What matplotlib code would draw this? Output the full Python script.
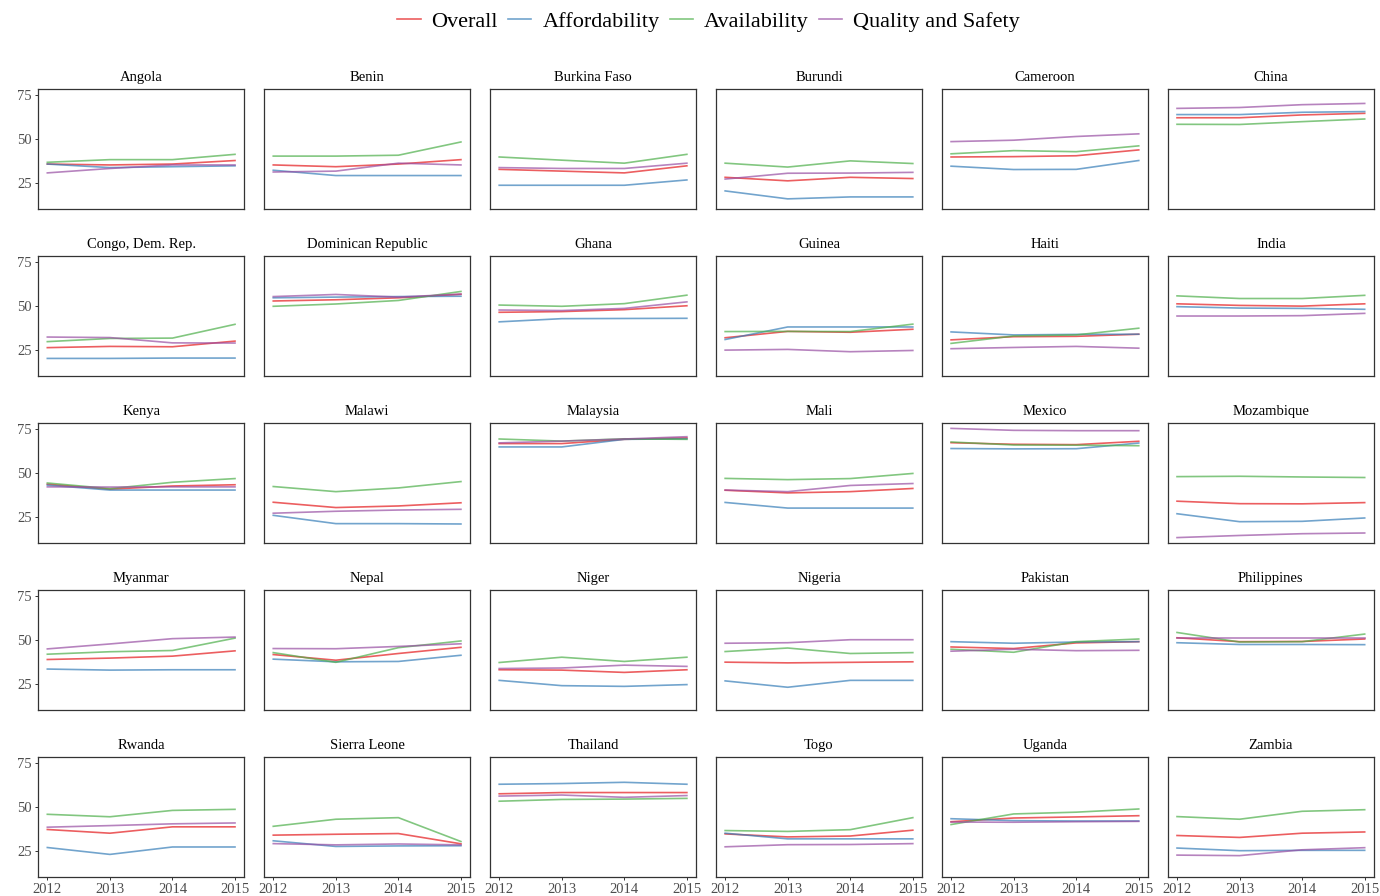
import matplotlib
matplotlib.use("Agg")
import matplotlib.pyplot as plt
from matplotlib.lines import Line2D
import numpy as np

plt.rcParams['font.family'] = ['Liberation Serif', 'DejaVu Serif']

years = [2012, 2013, 2014, 2015]
countries = ['Angola', 'Benin', 'Burkina Faso', 'Burundi', 'Cameroon', 'China',
             'Congo, Dem. Rep.', 'Dominican Republic', 'Ghana', 'Guinea', 'Haiti', 'India',
             'Kenya', 'Malawi', 'Malaysia', 'Mali', 'Mexico', 'Mozambique',
             'Myanmar', 'Nepal', 'Niger', 'Nigeria', 'Pakistan', 'Philippines',
             'Rwanda', 'Sierra Leone', 'Thailand', 'Togo', 'Uganda', 'Zambia']

overall = [
    [36, 35.5, 36, 38], [35.5, 34.5, 36, 38.5], [33, 32, 31, 35], [28.5, 26.5, 28.5, 27.8],
    [40, 40.2, 40.7, 44], [62.2, 62.2, 63.8, 64.7],
    [26.6, 27.3, 27.1, 30.3], [53, 53.7, 54.8, 56.8], [46.6, 47, 48.1, 50.3], [32.2, 35.8, 35.3, 37],
    [31, 32.8, 33, 34.2], [51.4, 50.5, 50.1, 51.4],
    [43.8, 41, 42.8, 43.5], [33.6, 30.6, 31.5, 33.3], [66.8, 66.8, 69.2, 70], [40.4, 38.9, 39.6, 41.4],
    [67.3, 66.4, 66.2, 68.1], [34.2, 32.8, 32.7, 33.4],
    [39.1, 39.9, 41, 44], [41.9, 38.7, 42.5, 46], [33.3, 33.1, 31.8, 33.3], [37.6, 37.2, 37.5, 37.8],
    [46.2, 45.3, 48.5, 49.2], [51.4, 49.2, 49.3, 50.7],
    [37.4, 35.3, 38.9, 38.9], [34.2, 34.7, 35.1, 29.3], [57.6, 58.3, 58.3, 58.3], [34.9, 33.2, 33.7, 37],
    [41.8, 43.9, 44.5, 45.2], [34, 32.9, 35.3, 36],
]
affordability = [
    [36, 34, 34.5, 35], [32.5, 29.5, 29.5, 29.5], [24, 24, 24, 27], [20.8, 16.3, 17.4, 17.4],
    [34.8, 32.9, 33, 38], [64, 64, 65.3, 65.7],
    [20.5, 20.5, 20.7, 20.7], [54.8, 55.2, 55.5, 55.7], [41.2, 43, 43.1, 43.2], [31.2, 38.3, 38.3, 38.3],
    [35.5, 33.8, 34.1, 34.2], [49.8, 49, 48.8, 48.3],
    [43.3, 40.5, 40.5, 40.5], [26.2, 21.5, 21.5, 21.3], [64.9, 64.9, 69.2, 69.5], [33.5, 30.3, 30.3, 30.3],
    [64, 63.8, 63.9, 67.1], [27.1, 22.6, 22.8, 24.7],
    [33.7, 33.1, 33.3, 33.3], [39.3, 37.8, 38, 41.5], [27.3, 24.3, 23.9, 24.9], [27, 23.4, 27.3, 27.3],
    [49.2, 48.3, 49, 49.2], [48.6, 47.6, 47.6, 47.5],
    [27.2, 23.3, 27.5, 27.5], [31, 27.8, 28.1, 28.2], [63, 63.4, 64.1, 63], [35.3, 32.1, 32.1, 32.1],
    [43.5, 42.4, 42.2, 42.2], [26.9, 25.4, 25.6, 25.6],
]
availability = [
    [37, 38.5, 38.5, 41.5], [40.5, 40.5, 41, 48.5], [40, 38.2, 36.5, 41.5], [36.5, 34.3, 37.8, 36.3],
    [41.8, 43.6, 43, 46.3], [58.5, 58.4, 60, 61.5],
    [30, 31.8, 32, 39.8], [50, 51.3, 53.3, 58.4], [50.7, 50, 51.5, 56.3], [35.7, 35.8, 35.7, 39.9],
    [29, 33.2, 33.8, 37.6], [55.9, 54.4, 54.4, 56.2],
    [44.5, 41.3, 44.9, 47], [42.5, 39.6, 41.7, 45.3], [69.4, 68.2, 69.5, 69.2], [47.1, 46.4, 47, 49.9],
    [67.7, 66, 65.9, 65.6], [48.1, 48.3, 47.9, 47.6],
    [42.1, 43.5, 44.2, 51.2], [43, 37.5, 45.8, 49.6], [37.4, 40.4, 38, 40.4], [43.6, 45.6, 42.5, 43],
    [44.9, 43.2, 49.2, 50.7], [54.4, 49, 49.2, 53.5],
    [46, 44.6, 48.2, 48.8], [39.2, 43.2, 44.1, 30.6], [53.4, 54.4, 54.6, 55], [36.8, 36.3, 37.3, 44.1],
    [40.2, 46.2, 47.2, 49], [44.7, 43.2, 47.7, 48.6],
]
quality = [
    [31, 33.5, 35.5, 35.5], [31.5, 32, 36.5, 35.5], [34, 33.5, 33.5, 36.5], [27.5, 30.8, 30.9, 31.3],
    [48.7, 49.5, 51.6, 53.1], [67.5, 68, 69.6, 70.3],
    [32.6, 32.3, 29.3, 29.2], [55.5, 56.7, 55.2, 56.9], [47.9, 47.6, 48.8, 52.5], [25.2, 25.6, 24.3, 25],
    [26, 26.7, 27.3, 26.3], [44.5, 44.5, 44.7, 46],
    [42.3, 42.2, 42.3, 42.3], [27.4, 28.5, 29.2, 29.6], [67.2, 68.2, 69.4, 70.7], [40.5, 39.6, 43.1, 44.2],
    [75.4, 74.3, 74.1, 74.1], [13.6, 14.8, 15.8, 16.2],
    [45.1, 47.9, 50.9, 51.8], [45.3, 45.2, 46.5, 48], [34, 34.3, 35.9, 35.2], [48.3, 48.6, 50.3, 50.3],
    [43.8, 44.9, 44.1, 44.3], [51.4, 51.4, 51.4, 51.4],
    [38.7, 39.6, 40.6, 41.1], [29.4, 28.7, 29.2, 28.7], [56.3, 56.9, 55.6, 56.6], [27.6, 28.8, 28.9, 29.4],
    [41.6, 41.5, 41.8, 42], [22.9, 22.6, 25.9, 27.1],
]

series = [('Overall', overall, '#E41A1C'),
          ('Affordability', affordability, '#377EB8'),
          ('Availability', availability, '#4DAF4A'),
          ('Quality and Safety', quality, '#984EA3')]

# shared y range with ggplot-like 5% padding
allv = np.array([overall, affordability, availability, quality])
lo, hi = allv.min(), allv.max()
pad = (hi - lo) * 0.05
ylim = (lo - pad, hi + pad)
xpad = (years[-1] - years[0]) * 0.05

nrows, ncols = 5, 6
fig, axes = plt.subplots(nrows, ncols, figsize=(13.8, 8.96), dpi=100)
plt.subplots_adjust(left=0.0275, right=0.9957, top=0.9007, bottom=0.0212,
                    wspace=0.0945, hspace=0.39)

for i, ax in enumerate(axes.flat):
    for name, data, col in series:
        ax.plot(years, data[i], color=col, alpha=0.7, lw=1.2)
    ax.set_xlim(years[0] - xpad, years[-1] + xpad)
    ax.set_ylim(*ylim)
    ax.set_title(countries[i], fontsize=10.5, pad=6)
    ax.set_yticks([25, 50, 75])
    ax.set_xticks(years)
    for s in ax.spines.values():
        s.set_color('#333333')
        s.set_linewidth(0.9)
    r, c = divmod(i, ncols)
    ax.tick_params(length=2.5, width=0.7, color='#333333', labelcolor='#4D4D4D',
                   labelsize=10.5, pad=2,
                   left=(c == 0), labelleft=(c == 0),
                   bottom=(r == nrows - 1), labelbottom=(r == nrows - 1))

# legend centred over the panel area
handles = [Line2D([0], [0], color=col, alpha=0.7, lw=1.2) for _, _, col in series]
fig.legend(handles, [s[0] for s in series], loc='center', bbox_to_anchor=(0.5135, 0.976),
           ncol=4, frameon=False, fontsize=16, handlelength=1.05, handletextpad=0.5,
           columnspacing=0.45)

fig.savefig('out.png', dpi=100)
